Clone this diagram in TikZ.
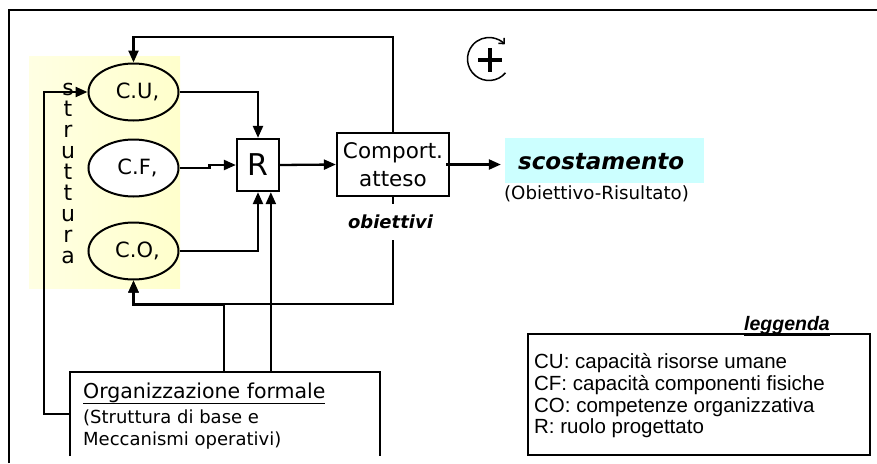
\documentclass[tikz,border=0pt]{standalone}
\usepackage{fontspec}
\setmainfont{DejaVu Sans}
\newfontfamily\legfont{Liberation Sans}
\usetikzlibrary{arrows.meta,shapes.geometric,calc}
\definecolor{pale}{HTML}{FFFFCC}
\definecolor{cyanbg}{HTML}{CCFFFF}
\begin{document}
\begin{tikzpicture}[x=1pt,y=-1pt,line width=2.3pt,
  arr/.style={-{Triangle[length=12pt,width=10pt]}},
  capnode/.style={ellipse,draw,line width=2pt,minimum width=90pt,minimum height=57pt,inner sep=0pt,
    font=\fontsize{21}{24}\selectfont},
  boxnode/.style={draw,rectangle,inner sep=0pt},
  orgline/.style={anchor=base west,font=\fontsize{18}{20}\selectfont},
  legline/.style={anchor=base west,inner sep=0pt,font=\legfont\fontsize{20.5}{22}\selectfont}]
\useasboundingbox (0,0) rectangle (877,463);

% structure band
\shade[left color=pale!55,right color=pale] (29,56) rectangle (180,288);

% outer frame
\draw (9,463) -- (9,10) -- (877,10);

% vertical label
\foreach \l [count=\i] in {s,t,r,u,t,t,u,r,a}
  \node[anchor=base,inner sep=0pt,font=\fontsize{22}{24}\selectfont] (st\i) at (68,{95+21*(\i-1)}) {\l};

% capacities
\node[capnode] (CU) at (133.5,92) {\hspace*{8pt}C.U,};
\node[capnode,fill=white] (CF) at (133.5,168) {\hspace*{8pt}C.F,};
\node[capnode] (CO) at (133.5,251) {\hspace*{8pt}C.O,};

% role and expected behaviour
\node[boxnode,minimum width=42pt,minimum height=52pt,font=\fontsize{30}{32}\selectfont] (R) at (258,165) {R};
\node[boxnode,minimum width=112pt,minimum height=63pt,align=center,font=\fontsize{21.5}{28}\selectfont] (comp) at (393,164.5) {Comport.\\atteso};

% deviation
\node[fill=cyanbg,minimum width=199pt,minimum height=45pt,inner sep=0pt] (scostbg) at (604.5,160.5) {};
\node[anchor=base west,inner sep=0pt,font=\fontsize{23}{26}\selectfont\bfseries\itshape] (scost) at (517,169) {scostamento};
\node[anchor=base,inner sep=0pt,font=\fontsize{18.2}{20}\selectfont] (diff) at (596.5,199) {(Obiettivo-Risultato)};

% formal organisation (box runs past the lower edge)
\node[minimum width=308pt,minimum height=82pt,inner sep=0pt] (org) at (225,414) {};
\draw (org.south west) -- (org.north west) -- (org.north east) -- (org.south east);
\node[anchor=base west,inner sep=0pt,font=\fontsize{20.5}{22}\selectfont] (orgt) at (82,398) {\underline{Organizzazione formale}};
\node[orgline,inner sep=0pt] (orgs1) at (82,423) {(Struttura di base e};
\node[orgline,inner sep=0pt] (orgs2) at (82,445) {Meccanismi operativi)};

% legend
\node[anchor=base,inner sep=0pt,font=\legfont\fontsize{19.5}{20}\selectfont\bfseries\itshape] (legt) at (787,330) {\underline{leggenda}};
\node[draw,minimum width=342pt,minimum height=121pt,inner sep=0pt] (leg) at (699,394.5) {};
\node[legline] (l1) at (533,368) {CU: capacità risorse umane};
\node[legline] (l2) at (533,390) {CF: capacità componenti fisiche};
\node[legline] (l3) at (533,412) {CO: competenze organizzativa};
\node[legline] (l4) at (533,433) {R: ruolo progettato};

% connectors
\draw[arr] (comp.north) -- ++(0,-95) -| (CU.north);
\draw[arr] (org.west) -- ++(-26,0) |- (CU.west);
\coordinate (o1) at ([xshift=154pt]org.north west);
\coordinate (o2) at ([xshift=201pt]org.north west);
\draw[arr] (o1) -- ++(0,-67) -| (CO.south);
\draw[arr] (comp.south) -- ++(0,107) -| (CO.south);
\draw[arr] (o2) -- (o2 |- R.south);
\draw[arr] (CU.east) -| (R.north);
\draw[arr] (CF.east) -- ++(30,0) -- ++(0,-3) -- (R.west);
\draw[arr] (CO.east) -| (R.south);
\draw[arr] (R.east) -- (comp.west);
\draw[arr,shorten >=3pt] ([xshift=-4pt]comp.east) -- (comp.east -| scostbg.west);

% goals label interrupting the feedback line
\node[fill=white,minimum height=36pt,inner xsep=2pt,font=\fontsize{18}{20}\selectfont\bfseries\itshape] (obj) at (390.5,222) {obiettivi};

% reinforcing loop symbol
\draw[line width=1.5pt,-{Straight Barb[length=4pt,width=8pt]}] (489,59) ++(-40:21.5pt) arc[start angle=-40,end angle=-317,radius=21.5pt];
\draw[line width=4pt] (478,60) -- (502,60) (490,48) -- (490,72);
\end{tikzpicture}
\end{document}
